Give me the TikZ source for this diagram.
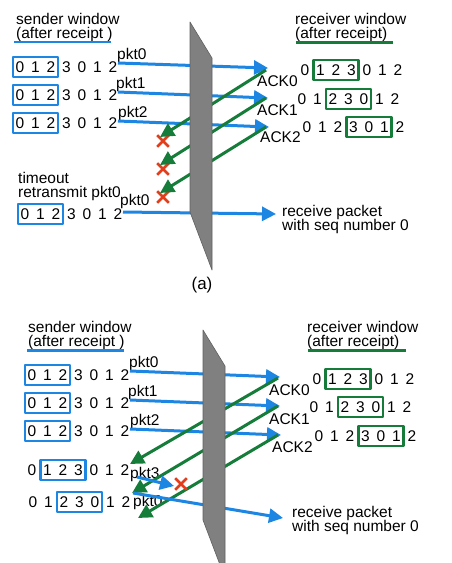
\documentclass[tikz,border=0pt]{standalone}
\usepackage{fontspec}
\setmainfont{Liberation Sans}
\usetikzlibrary{arrows.meta}
\usetikzlibrary{fit}
\usetikzlibrary{shapes.misc}
\definecolor{pktblue}{RGB}{28,134,226}
\definecolor{ackgreen}{RGB}{22,124,58}
\definecolor{lossred}{RGB}{226,62,28}
\definecolor{wallgray}{RGB}{128,128,128}
\tikzset{txt/.style={font=\fontsize{15.5}{14.5}\selectfont, inner sep=0pt, align=left}}
\tikzset{dig/.style={font=\fontsize{15.5}{15.5}\selectfont, inner sep=0pt}}
\tikzset{sbox/.style={draw=pktblue, line width=2.8pt, inner xsep=2.5pt, inner ysep=4.3pt}}
\tikzset{rbox/.style={draw=ackgreen, line width=2.8pt, inner xsep=2.5pt, inner ysep=4.3pt}}
\tikzset{pkt/.style={draw=pktblue, line width=3pt, -{Triangle[length=14pt,width=14pt]}}}
\tikzset{ack/.style={draw=ackgreen, line width=3pt, -{Triangle[length=14pt,width=14pt]}}}
\tikzset{lost/.style={cross out, draw=lossred, line width=2.6pt, minimum size=9pt, inner sep=0pt}}
\tikzset{wall/.style={fill=wallgray, draw=wallgray!75!black, line width=0.6pt}}

\begin{document}
\begin{tikzpicture}[x=1pt, y=-1pt, line join=round]
  \useasboundingbox (0,0) rectangle (452,563);

  % window rows: name / first x / y
  \foreach \r/\x/\y in {sa1/20/67, sa2/20/95, sa3/20/123, ta/25/214,
                        ra1/305/70, ra2/302/99, ra3/307/127,
                        sb1/32/375, sb2/32/403, sb3/32/431, sb4/32/470, sb5/33/502,
                        rb1/317/379, rb2/314/407, rb3/319/436}
    \foreach \d [count=\i] in {0,1,2,3,0,1,2}
      \node[dig] (\r-\i) at ({\x+15.5*(\i-1)},\y) {\d};

  %%% (a)
  \node[txt, anchor=north west] (sndA) at (16,13) {sender window\\(after receipt )};
  \node[txt, anchor=north west] (rcvA) at (295,13) {receiver window\\(after receipt)};
  \draw[pktblue, line width=2.6pt] (14,42) -- (111,42);
  \draw[ackgreen, line width=2.6pt] (296,42.5) -- (393,42.5);

  \node[sbox, fit=(sa1-1)(sa1-3)] (sa1box) {};
  \node[sbox, fit=(sa2-1)(sa2-3)] (sa2box) {};
  \node[sbox, fit=(sa3-1)(sa3-3)] (sa3box) {};
  \node[rbox, fit=(ra1-2)(ra1-4)] (ra1box) {};
  \node[rbox, fit=(ra2-3)(ra2-5)] (ra2box) {};
  \node[rbox, fit=(ra3-4)(ra3-6)] (ra3box) {};

  \node[txt, anchor=base west] (pa1) at (117,59) {pkt0};
  \node[txt, anchor=base west] (pa2) at (116,88) {pkt1};
  \node[txt, anchor=base west] (pa3) at (118,117) {pkt2};
  \node[txt, anchor=north west] (acka0) at (257,75) {ACK0};
  \node[txt, anchor=north west] (acka1) at (257,104) {ACK1};
  \node[txt, anchor=north west] (acka2) at (260,131) {ACK2};

  \coordinate (pa1s) at (118,63);  \coordinate (pa1e) at (268,68);
  \coordinate (pa2s) at (118,92);  \coordinate (pa2e) at (268,98);
  \coordinate (pa3s) at (118,121); \coordinate (pa3e) at (269,127);
  \draw[pkt] (pa1s) -- (pa1e);
  \draw[pkt] (pa2s) -- (pa2e);
  \draw[pkt] (pa3s) -- (pa3e);

  \node[lost] (xa1) at (163,141) {};
  \node[lost] (xa2) at (163,169) {};
  \node[lost] (xa3) at (163,197) {};
  \coordinate (aa1s) at (266,70);  \coordinate (aa1e) at (160,137);
  \coordinate (aa2s) at (266,98);  \coordinate (aa2e) at (160,165);
  \coordinate (aa3s) at (266,127); \coordinate (aa3e) at (160,193);
  \draw[ack] (aa1s) -- (aa1e);
  \draw[ack] (aa2s) -- (aa2e);
  \draw[ack] (aa3s) -- (aa3e);

  \node[txt, anchor=north west] (toA) at (18,172) {timeout\\retransmit pkt0};
  \node[sbox, fit=(ta-1)(ta-3)] (tabox) {};
  \node[txt, anchor=base west] (pa4) at (120,205) {pkt0};
  \coordinate (pa4s) at (123,212); \coordinate (pa4e) at (276,214);
  \draw[pkt] (pa4s) -- (pa4e);
  \node[txt, anchor=north west] (recA) at (282,205) {receive packet\\with seq number 0};

  \draw[wall] (190,22) -- (212,58) -- (212,270) -- (190,212) -- cycle;
  \node[txt, font=\fontsize{17}{17}\selectfont] (capA) at (202,285) {(a)};

  %%% (b)
  \node[txt, anchor=north west] (sndB) at (28,321) {sender window\\(after receipt )};
  \node[txt, anchor=north west] (rcvB) at (307,321) {receiver window\\(after receipt)};
  \draw[pktblue, line width=2.6pt] (27,350.5) -- (124,350.5);
  \draw[ackgreen, line width=2.6pt] (308,350.5) -- (406,350.5);

  \node[sbox, fit=(sb1-1)(sb1-3)] (sb1box) {};
  \node[sbox, fit=(sb2-1)(sb2-3)] (sb2box) {};
  \node[sbox, fit=(sb3-1)(sb3-3)] (sb3box) {};
  \node[sbox, fit=(sb4-2)(sb4-4)] (sb4box) {};
  \node[sbox, fit=(sb5-3)(sb5-5)] (sb5box) {};
  \node[rbox, fit=(rb1-2)(rb1-4)] (rb1box) {};
  \node[rbox, fit=(rb2-3)(rb2-5)] (rb2box) {};
  \node[rbox, fit=(rb3-4)(rb3-6)] (rb3box) {};

  \node[txt, anchor=base west] (pb1) at (129,367) {pkt0};
  \node[txt, anchor=base west] (pb2) at (128,396) {pkt1};
  \node[txt, anchor=base west] (pb3) at (130,425) {pkt2};
  \node[txt, anchor=base west] (pb4) at (130,478) {pkt3};
  \node[txt, anchor=base west] (pb5) at (133,506) {pkt0};
  \node[txt, anchor=north west] (ackb0) at (269,384) {ACK0};
  \node[txt, anchor=north west] (ackb1) at (269,413) {ACK1};
  \node[txt, anchor=north west] (ackb2) at (272,441) {ACK2};

  \coordinate (pb1s) at (130,371); \coordinate (pb1e) at (280,377);
  \coordinate (pb2s) at (130,400); \coordinate (pb2e) at (280,406);
  \coordinate (pb3s) at (130,429); \coordinate (pb3e) at (281,435);
  \draw[pkt] (pb1s) -- (pb1e);
  \draw[pkt] (pb2s) -- (pb2e);
  \draw[pkt] (pb3s) -- (pb3e);

  \coordinate (ab1s) at (278,378); \coordinate (ab1e) at (130,464);
  \coordinate (ab2s) at (278,406); \coordinate (ab2e) at (132,493);
  \coordinate (ab3s) at (278,435); \coordinate (ab3e) at (138,518);
  \draw[ack] (ab1s) -- (ab1e);
  \draw[ack] (ab2s) -- (ab2e);
  \draw[ack] (ab3s) -- (ab3e);

  \node[lost] (xb1) at (181,484) {};
  \coordinate (pb4s) at (137,477); \coordinate (pb4e) at (174,486);
  \draw[pkt] (pb4s) -- (pb4e);
  \coordinate (pb5s) at (133,493); \coordinate (pb5e) at (283,518);
  \draw[pkt] (pb5s) -- (pb5e);
  \node[txt, anchor=north west] (recB) at (292,506) {receive packet\\with seq number 0};

  \begin{scope}
    \clip (0,0) rectangle (452,563);
    \draw[wall] (203,330) -- (225,366) -- (225,578) -- (203,520) -- cycle;
  \end{scope}
\end{tikzpicture}
\end{document}
